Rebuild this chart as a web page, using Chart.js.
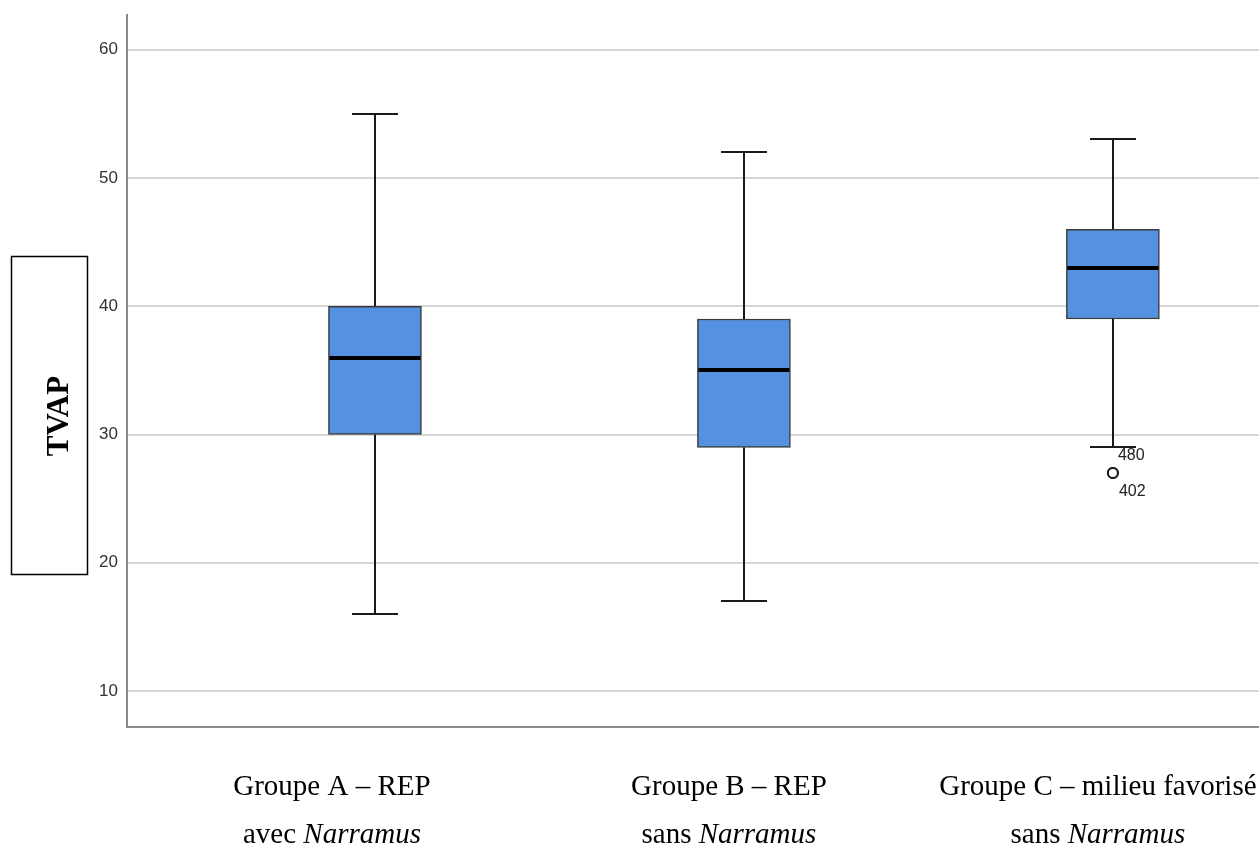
<!DOCTYPE html>
<html>
<head>
<meta charset="utf-8">
<title>TVAP</title>
<script src="https://cdn.jsdelivr.net/npm/chart.js@4.4.0/dist/chart.umd.min.js"></script>
<style>
    html, body { margin: 0; padding: 0; background: #ffffff; overflow: hidden; }
    #wrap { width: 1259px; height: 848px; position: relative; }
</style>
</head>
<body>
<div id="wrap"><canvas id="tvapChart"></canvas></div>
<script>
// groups (x categories)
const groupNames = ['Groupe A \u2013 REP', 'Groupe B \u2013 REP', 'Groupe C \u2013 milieu favoris\u00e9'];
const groupPrefix = ['avec', 'sans', 'sans'];
const groupItalic = ['Narramus', 'Narramus', 'Narramus'];

// box plot values per group
const whiskerLow = [16, 17, 29];
const quartile1 = [30, 29, 39];
const medians = [36, 35, 43];
const quartile3 = [40, 39, 46];
const whiskerHigh = [55, 52, 53];

// outliers
const outlierGroup = [3, 3];
const outlierValue = [27, 27];
const outlierId = ['480', '402'];

const yTicks = [10, 20, 30, 40, 50, 60];

// label offsets (px) of the text under each group, as in the source document
const labelShift = [-43, -15, -15];

const boxParts = {
    id: 'boxParts',
    beforeDatasetsDraw(chart) {
        const { ctx, scales: { x, y } } = chart;
        ctx.save();
        ctx.strokeStyle = '#1a1a1a';
        ctx.lineWidth = 2;
        const capHalf = 23;
        quartile1.forEach(function(q, i) {
            const cx = Math.round(x.getPixelForValue(i + 1));
            const yHi = Math.round(y.getPixelForValue(whiskerHigh[i]));
            const yLo = Math.round(y.getPixelForValue(whiskerLow[i]));
            ctx.beginPath();
            ctx.moveTo(cx, yHi);
            ctx.lineTo(cx, y.getPixelForValue(quartile3[i]));
            ctx.moveTo(cx, y.getPixelForValue(q));
            ctx.lineTo(cx, yLo);
            ctx.moveTo(cx - capHalf, yHi);
            ctx.lineTo(cx + capHalf, yHi);
            ctx.moveTo(cx - capHalf, yLo);
            ctx.lineTo(cx + capHalf, yLo);
            ctx.stroke();
        });
        ctx.restore();
    },
    afterDatasetsDraw(chart) {
        const { ctx, scales: { x, y } } = chart;
        const meta = chart.getDatasetMeta(0);
        ctx.save();
        ctx.strokeStyle = '#000000';
        ctx.lineWidth = 4;
        medians.forEach(function(m, i) {
            const bar = meta.data[i];
            const half = bar.width / 2;
            const my = Math.round(y.getPixelForValue(m));
            ctx.beginPath();
            ctx.moveTo(bar.x - half + 1, my);
            ctx.lineTo(bar.x + half - 1, my);
            ctx.stroke();
        });

        // outlier case numbers
        ctx.fillStyle = '#222222';
        ctx.font = '16px "Liberation Sans", Arial, sans-serif';
        ctx.textAlign = 'left';
        ctx.textBaseline = 'alphabetic';
        outlierId.forEach(function(id, i) {
            const px = x.getPixelForValue(outlierGroup[i]);
            const py = y.getPixelForValue(outlierValue[i]);
            if (i === 0) {
                ctx.fillText(id, px + 5, py - 13);
            } else {
                ctx.fillText(id, px + 6, py + 23);
            }
        });
        ctx.restore();
    },
    afterDraw(chart) {
        const { ctx, chartArea, scales: { x } } = chart;
        ctx.save();
        ctx.fillStyle = '#000000';
        ctx.textBaseline = 'alphabetic';
        const regular = '29px "Liberation Serif", "Times New Roman", serif';
        const italic = 'italic 29px "Liberation Serif", "Times New Roman", serif';
        groupNames.forEach(function(name, i) {
            const cx = x.getPixelForValue(i + 1) + labelShift[i];
            ctx.font = regular;
            ctx.textAlign = 'center';
            ctx.fillText(name, cx, chartArea.bottom + 68);

            const first = groupPrefix[i] + ' ';
            const w1 = ctx.measureText(first).width;
            ctx.font = italic;
            const w2 = ctx.measureText(groupItalic[i]).width;
            const start = cx - (w1 + w2) / 2;
            ctx.textAlign = 'left';
            ctx.font = regular;
            ctx.fillText(first, start, chartArea.bottom + 116);
            ctx.font = italic;
            ctx.fillText(groupItalic[i], start + w1, chartArea.bottom + 116);
        });

        // boxed axis title
        ctx.strokeStyle = '#000000';
        ctx.lineWidth = 1.5;
        ctx.strokeRect(11.5, 256.5, 76, 318);
        ctx.translate(68, 416);
        ctx.rotate(-Math.PI / 2);
        ctx.font = 'bold 31px "Liberation Serif", "Times New Roman", serif';
        ctx.textAlign = 'center';
        ctx.fillText('TVAP', 0, 0);
        ctx.restore();
    }
};

new Chart(document.getElementById('tvapChart'), {
    type: 'bar',
    data: {
        datasets: [{
            label: 'TVAP',
            data: quartile1.map(function(q, i) { return { x: i + 1, y: [q, quartile3[i]] }; }),
            backgroundColor: '#5492e1',
            borderColor: '#3a3a3a',
            borderWidth: 1.5,
            borderSkipped: false,
            barThickness: 93,
            order: 2
        }, {
            type: 'scatter',
            label: 'Outliers',
            data: outlierValue.map(function(v, i) { return { x: outlierGroup[i], y: v }; }),
            pointRadius: 5,
            pointBorderWidth: 2,
            borderColor: '#1a1a1a',
            backgroundColor: '#ffffff',
            order: 1
        }]
    },
    options: {
        responsive: true,
        maintainAspectRatio: false,
        animation: false,
        layout: { autoPadding: false, padding: { top: 15, left: 0, right: 0, bottom: 0 } },
        plugins: {
            legend: { display: false },
            tooltip: { enabled: false }
        },
        scales: {
            x: {
                type: 'linear',
                offset: false,
                min: 0.328,
                max: 3.396,
                grid: { display: false, offset: false },
                ticks: { display: false },
                border: { display: true, color: '#8a8a8a', width: 2 },
                afterFit: function(scale) { scale.height = 121; }
            },
            y: {
                min: 7.2,
                max: 62.7,
                afterBuildTicks: function(scale) {
                    scale.ticks = yTicks.map(function(v) { return { value: v }; });
                },
                grid: { color: '#d6d6d6', lineWidth: 2, drawTicks: false },
                border: { display: true, color: '#8a8a8a', width: 2 },
                ticks: {
                    padding: 9,
                    color: '#333333',
                    font: { family: '"Liberation Sans", Arial, sans-serif', size: 17 }
                },
                afterFit: function(scale) {
                    scale.width = 127;
                    scale.paddingTop = 0;
                    scale.paddingBottom = 0;
                }
            }
        }
    },
    plugins: [boxParts]
});
</script>
</body>
</html>
